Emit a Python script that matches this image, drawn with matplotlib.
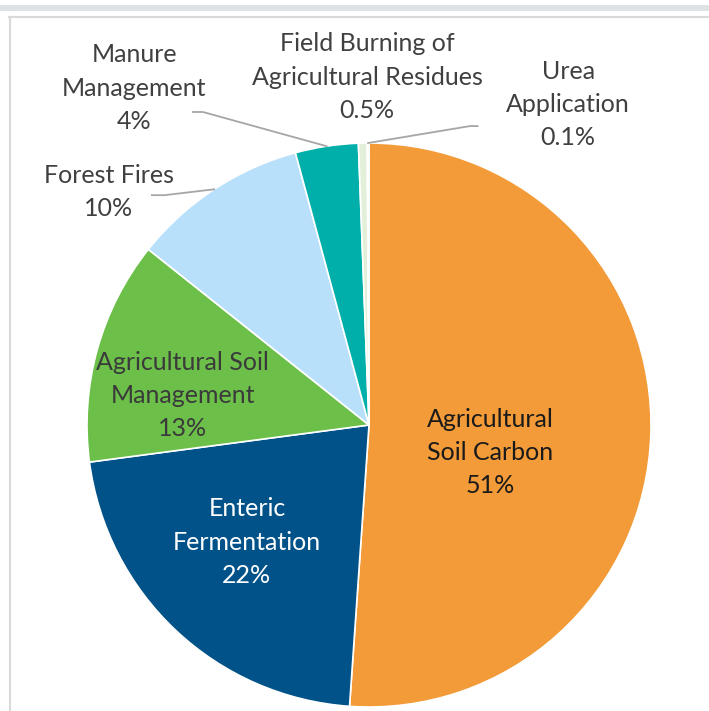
import matplotlib
matplotlib.use("Agg")
import matplotlib.pyplot as plt
import numpy as np
from matplotlib.patches import Rectangle
from matplotlib.lines import Line2D

categories = ["Agricultural\nSoil Carbon", "Enteric\nFermentation", "Agricultural Soil\nManagement",
              "Forest Fires", "Manure\nManagement", "Field Burning of\nAgricultural Residues",
              "Urea\nApplication"]
values = [51.1, 21.8, 12.8, 10.1, 3.6, 0.5, 0.1]
pct_labels = ["51%", "22%", "13%", "10%", "4%", "0.5%", "0.1%"]
colors = ["#F29B38", "#005288", "#6CC04A", "#B8E0FB", "#00AFAA", "#E2F0D9", "#A9D18E"]
text_colors = ["#1A1A1A", "white", "#3A3A3A", "#404040", "#404040", "#404040", "#404040"]

# label layout positions (in pie-radius units relative to centre)
label_pos = [(0.43, -0.096), (-0.433, -0.415), (-0.66, 0.106), (-0.922, 0.826),
             (-0.833, 1.195), (-0.007, 1.234), (0.706, 1.138)]
# leader elbows per label
leaders = {3: [(-0.770, 0.815), (-0.725, 0.815)],
           4: [(-0.624, 1.110), (-0.589, 1.110)],
           6: [(0.385, 1.060), (0.358, 1.060)]}

plt.rcParams['font.family'] = ['Lato', 'DejaVu Sans']

W, H = 709, 711
fig = plt.figure(figsize=(W / 100, H / 100), dpi=100)

# frame decorations
fig.patches.append(Rectangle((0, 1 - 11 / H), 1, 6 / H, transform=fig.transFigure,
                             facecolor="#DDE2E4", edgecolor="none"))
fig.add_artist(Line2D([9 / W, 1], [1 - 17 / H, 1 - 17 / H], color="#D9D9D9", lw=1.5))
fig.add_artist(Line2D([10 / W, 10 / W], [0, 1 - 17 / H], color="#D9D9D9", lw=1.5))

cx, cy, r = 369, 425, 282
ax = fig.add_axes([(cx - r) / W, (H - cy - r) / H, 2 * r / W, 2 * r / H])
wedges, _ = ax.pie(values, colors=colors, startangle=90, counterclock=False, radius=1,
                   wedgeprops=dict(edgecolor="white", linewidth=1.2))
ax.set_xlim(-1, 1)
ax.set_ylim(-1, 1)
ax.set_aspect("equal")
ax.axis("off")

for i, (cat, pct) in enumerate(zip(categories, pct_labels)):
    x, y = label_pos[i]
    ax.text(x, y, f"{cat}\n{pct}", ha="center", va="center", fontsize=18,
            color=text_colors[i], linespacing=1.53, clip_on=False)

for i, pts in leaders.items():
    w = wedges[i]
    ang = np.deg2rad((w.theta1 + w.theta2) / 2)
    ex, ey = np.cos(ang), np.sin(ang)
    xs = [p[0] for p in pts] + [ex]
    ys = [p[1] for p in pts] + [ey]
    ax.plot(xs, ys, color="#A6A6A6", lw=1.3, clip_on=False)

fig.savefig("out.png", dpi=100)
